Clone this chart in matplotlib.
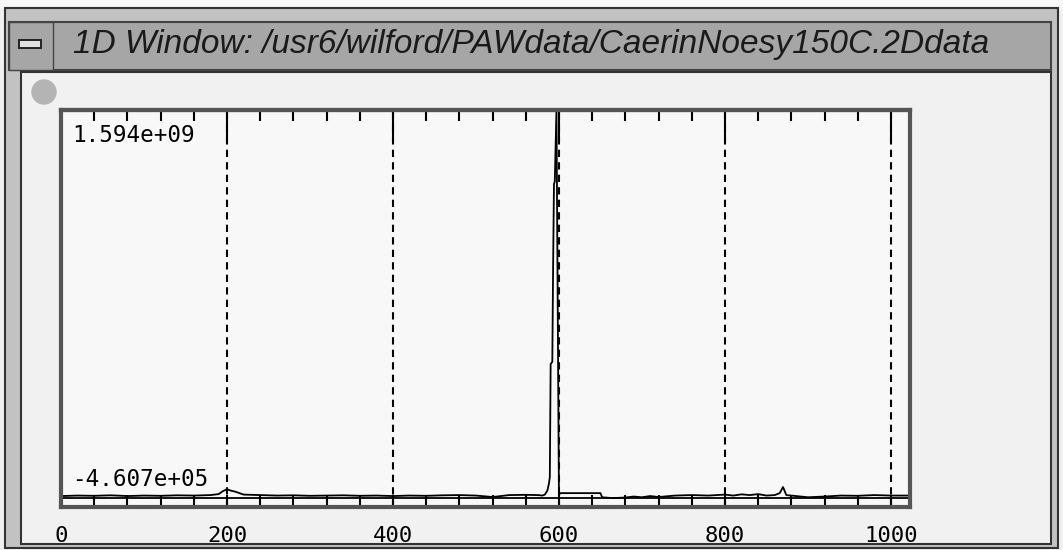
import matplotlib.pyplot as plt
from matplotlib.patches import Rectangle, Circle
from matplotlib.ticker import MultipleLocator

title = '1D Window: /usr6/wilford/PAWdata/CaerinNoesy150C.2Ddata'

# sparse trace of the 1D slice (point index, intensity in units of 1e6)
base_left_x = [0, 20, 40, 60, 80, 100, 120, 140, 160, 180, 190, 195, 200, 205, 210, 215, 220,
               240, 260, 280, 300, 320, 340, 360, 380, 400, 420, 440, 460, 480, 500, 520,
               540, 560, 575]
base_left_y = [8, 10, 9, 11, 8, 10, 9, 11, 10, 12, 16, 28, 36, 30, 26, 20, 14,
               12, 10, 11, 9, 10, 11, 9, 10, 8, 10, 9, 11, 12, 10, 4,
               12, 13, 12]
peak_x = [580, 583, 586, 588, 589, 590, 592, 593, 594, 595, 597, 600]
peak_y = [10, 14, 30, 60, 86, 550, 560, 960, 1290, 1300, 1594, 8]
base_right_x = [601, 620, 650, 652, 665, 680, 690, 700, 710, 720, 740, 760, 780, 800, 810,
                820, 830, 840, 850, 860, 866, 870, 874, 880, 900, 920, 940, 960, 980,
                1000, 1023]
base_right_y = [20, 20, 20, 3, -0.4607, 2, 6, 3, 8, 4, 10, 12, 10, 14, 10,
                15, 12, 16, 10, 12, 20, 45, 12, 10, 3, 6, 10, 9, 12,
                10, 10]

xs = base_left_x + peak_x + base_right_x
ys = [v * 1e6 for v in base_left_y + peak_y + base_right_y]

W, H = 1063, 550
fig = plt.figure(figsize=(W / 100, H / 100), dpi=100)
fig.patch.set_facecolor('#f0f0f0')

# window chrome, in pixel coordinates
bg = fig.add_axes([0, 0, 1, 1])
bg.set_xlim(0, W)
bg.set_ylim(H, 0)
bg.axis('off')
bg.add_patch(Rectangle((0, 0), W, 8, color='#f7f7f7'))
bg.add_patch(Rectangle((5, 8), 1053, 540, facecolor='#c2c2c2', edgecolor='#333333', lw=1.5))
bg.add_patch(Rectangle((9, 22), 1042, 48, facecolor='#a6a6a6', edgecolor='#444444', lw=1.5))
bg.add_patch(Rectangle((9, 22), 44, 48, facecolor='#a6a6a6', edgecolor='#444444', lw=1))
bg.add_patch(Rectangle((19, 40), 22, 8, facecolor='#e0e0e0', edgecolor='#222222', lw=1.4))
bg.add_patch(Rectangle((21, 72), 1030, 472, facecolor='#f1f1f1', edgecolor='#333333', lw=1.5))
bg.add_patch(Circle((44, 92), 12, color='#b4b4b4'))
bg.add_patch(Rectangle((62, 306), 7, 6, color='#666666'))
bg.text(73, 45, title, fontsize=24, style='italic', family='Liberation Sans',
        color='#1a1a1a', va='center', ha='left')

# plot box
ax = fig.add_axes([61 / W, (H - 507) / H, (910 - 61) / W, (507 - 110) / H])
ax.set_facecolor('#f8f8f8')
ymax = max(ys)
ymin = min(ys)
ax.set_xlim(0, 1023)
ax.set_ylim(-ymax * 9 / 388, ymax)
ax.plot(xs, ys, color='black', lw=1.3)
ax.axhline(0, color='black', lw=1.3)

ax.xaxis.set_major_locator(MultipleLocator(200))
ax.xaxis.set_minor_locator(MultipleLocator(40))
ax.set_yticks([])
ax.grid(axis='x', which='major', color='black', linestyle=(0, (3.5, 2.5)), lw=1.5)
ax.tick_params(axis='x', which='both', direction='in', length=9, width=1.5,
               top=False, bottom=True, pad=14, labelsize=16)
for lbl in ax.get_xticklabels():
    lbl.set_family('DejaVu Sans Mono')
for s in ax.spines.values():
    s.set_color('#555555')
    s.set_linewidth(3)

top = ax.secondary_xaxis('top')
top.xaxis.set_major_locator(MultipleLocator(200))
top.xaxis.set_minor_locator(MultipleLocator(40))
top.tick_params(which='major', direction='in', length=22, width=1.5, labeltop=False)
top.tick_params(which='minor', direction='in', length=8, width=1.5)
top.spines['top'].set_color('#555555')
top.spines['top'].set_linewidth(3)

ax.text(0.013, 0.937, f'{ymax:.3e}', transform=ax.transAxes, family='DejaVu Sans Mono',
        fontsize=16.3, va='center', ha='left')
ax.text(0.013, 0.0705, f'{ymin:.3e}', transform=ax.transAxes, family='DejaVu Sans Mono',
        fontsize=16.3, va='center', ha='left')

fig.savefig('out.png', dpi=100, facecolor=fig.get_facecolor())
